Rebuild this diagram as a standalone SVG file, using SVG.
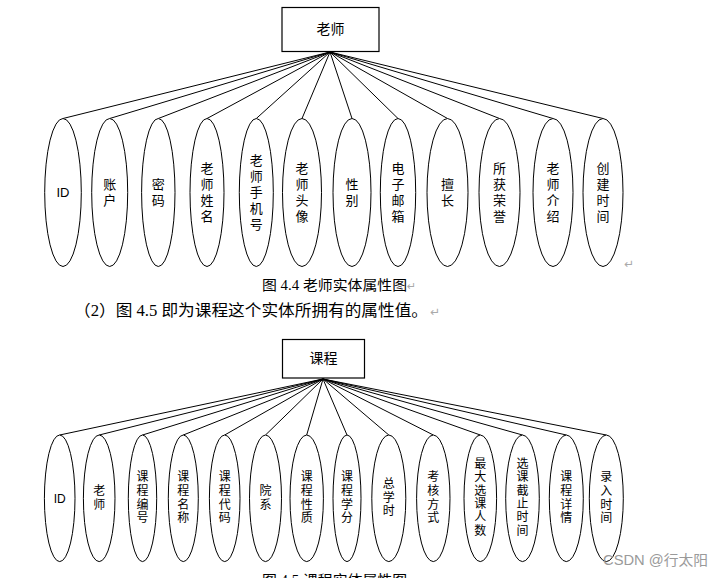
<svg xmlns="http://www.w3.org/2000/svg" width="716" height="578" viewBox="0 0 716 578">
<style>
.box{fill:#fff;stroke:#000;stroke-width:1.2}
.ell{fill:#fff;stroke:#000;stroke-width:1}
.con line{stroke:#000;stroke-width:1}
.t1{font-family:"Liberation Sans","Noto Sans CJK SC",sans-serif;font-size:13px;fill:#000;text-anchor:middle}
.t2{font-family:"Liberation Sans","Noto Sans CJK SC",sans-serif;font-size:12px;fill:#000;text-anchor:middle}
.ent{font-family:"Liberation Sans","Noto Sans CJK SC",sans-serif;font-size:14px;fill:#000;text-anchor:middle}
.cap{font-family:"Liberation Serif","Noto Sans CJK SC",serif;fill:#000}
.ret{font-family:"DejaVu Sans",sans-serif;fill:#aaa}
.wm{font-family:"Liberation Sans","Noto Sans CJK SC",sans-serif;font-size:14px;fill:#9a9a9a}
</style>

<g id="connectors" class="con">
<line x1="330" y1="52" x2="63" y2="118.5"/>
<line x1="330" y1="52" x2="109.7" y2="118.5"/>
<line x1="330" y1="52" x2="158.3" y2="118.5"/>
<line x1="330" y1="52" x2="207" y2="118.5"/>
<line x1="330" y1="52" x2="256.3" y2="118.5"/>
<line x1="330" y1="52" x2="302" y2="118.5"/>
<line x1="330" y1="52" x2="352" y2="118.5"/>
<line x1="330" y1="52" x2="398" y2="118.5"/>
<line x1="330" y1="52" x2="447.5" y2="118.5"/>
<line x1="330" y1="52" x2="499.5" y2="118.5"/>
<line x1="330" y1="52" x2="553" y2="118.5"/>
<line x1="330" y1="52" x2="603" y2="118.5"/>

<line x1="323" y1="379" x2="59.7" y2="435"/>
<line x1="323" y1="379" x2="99.2" y2="435"/>
<line x1="323" y1="379" x2="142.5" y2="435"/>
<line x1="323" y1="379" x2="183.3" y2="435"/>
<line x1="323" y1="379" x2="224.7" y2="435"/>
<line x1="323" y1="379" x2="265.5" y2="435"/>
<line x1="323" y1="379" x2="306.7" y2="435"/>
<line x1="323" y1="379" x2="347" y2="435"/>
<line x1="323" y1="379" x2="388.8" y2="435"/>
<line x1="323" y1="379" x2="433.3" y2="435"/>
<line x1="323" y1="379" x2="480.3" y2="435"/>
<line x1="323" y1="379" x2="522.5" y2="435"/>
<line x1="323" y1="379" x2="566.3" y2="435"/>
<line x1="323" y1="379" x2="606.3" y2="435"/>
</g>

<!-- Teacher entity -->
<g id="teacher">
<rect class="box" x="282" y="7.5" width="97" height="44"/>
<text class="ent" x="330.5" y="34">老师</text>
</g>

<g id="t-id"><ellipse class="ell" cx="63" cy="192.5" rx="18.3" ry="74"/><text class="t1" x="63" y="197">ID</text></g>
<g id="t-account"><ellipse class="ell" cx="109.7" cy="192.5" rx="18" ry="74"/><text class="t1"><tspan x="109.7" y="188.7">账</tspan><tspan x="109.7" y="204.7">户</tspan></text></g>
<g id="t-pwd"><ellipse class="ell" cx="158.3" cy="192.5" rx="16.7" ry="74"/><text class="t1"><tspan x="158.3" y="188.7">密</tspan><tspan x="158.3" y="204.7">码</tspan></text></g>
<g id="t-name"><ellipse class="ell" cx="207" cy="192.5" rx="17" ry="74"/><text class="t1"><tspan x="207" y="172.7">老</tspan><tspan x="207" y="188.7">师</tspan><tspan x="207" y="204.7">姓</tspan><tspan x="207" y="220.7">名</tspan></text></g>
<g id="t-phone"><ellipse class="ell" cx="256.3" cy="192.5" rx="17" ry="74"/><text class="t1"><tspan x="256.3" y="164.7">老</tspan><tspan x="256.3" y="180.7">师</tspan><tspan x="256.3" y="196.7">手</tspan><tspan x="256.3" y="212.7">机</tspan><tspan x="256.3" y="228.7">号</tspan></text></g>
<g id="t-avatar"><ellipse class="ell" cx="302" cy="192.5" rx="19.5" ry="74"/><text class="t1"><tspan x="302" y="172.7">老</tspan><tspan x="302" y="188.7">师</tspan><tspan x="302" y="204.7">头</tspan><tspan x="302" y="220.7">像</tspan></text></g>
<g id="t-gender"><ellipse class="ell" cx="352" cy="192.5" rx="19" ry="74"/><text class="t1"><tspan x="352" y="188.7">性</tspan><tspan x="352" y="204.7">别</tspan></text></g>
<g id="t-email"><ellipse class="ell" cx="398" cy="192.5" rx="17.7" ry="74"/><text class="t1"><tspan x="398" y="172.7">电</tspan><tspan x="398" y="188.7">子</tspan><tspan x="398" y="204.7">邮</tspan><tspan x="398" y="220.7">箱</tspan></text></g>
<g id="t-skill"><ellipse class="ell" cx="447.5" cy="192.5" rx="20.5" ry="74"/><text class="t1"><tspan x="447.5" y="188.7">擅</tspan><tspan x="447.5" y="204.7">长</tspan></text></g>
<g id="t-honor"><ellipse class="ell" cx="499.5" cy="192.5" rx="20.5" ry="74"/><text class="t1"><tspan x="499.5" y="172.7">所</tspan><tspan x="499.5" y="188.7">获</tspan><tspan x="499.5" y="204.7">荣</tspan><tspan x="499.5" y="220.7">誉</tspan></text></g>
<g id="t-intro"><ellipse class="ell" cx="553" cy="192.5" rx="20" ry="74"/><text class="t1"><tspan x="553" y="172.7">老</tspan><tspan x="553" y="188.7">师</tspan><tspan x="553" y="204.7">介</tspan><tspan x="553" y="220.7">绍</tspan></text></g>
<g id="t-created"><ellipse class="ell" cx="603" cy="192.5" rx="20" ry="74"/><text class="t1"><tspan x="603" y="172.7">创</tspan><tspan x="603" y="188.7">建</tspan><tspan x="603" y="204.7">时</tspan><tspan x="603" y="220.7">间</tspan></text></g>

<text class="ret" x="624" y="268" font-size="12">↵</text>

<text class="cap" x="262" y="290" font-size="14" textLength="145" lengthAdjust="spacingAndGlyphs">图 4.4 老师实体属性图</text>
<text class="ret" x="407" y="290" font-size="11">↵</text>
<text class="cap" x="74" y="316" font-size="16" textLength="354" lengthAdjust="spacingAndGlyphs">（2）图 4.5 即为课程这个实体所拥有的属性值。</text>
<text class="ret" x="430" y="316" font-size="12">↵</text>

<!-- Course entity -->
<g id="course">
<rect class="box" x="282.5" y="339.5" width="82" height="38.5"/>
<text class="ent" x="323.5" y="363">课程</text>
</g>

<g id="c-id"><ellipse class="ell" cx="59.7" cy="498.3" rx="15.3" ry="63.3"/><text class="t2" x="59.7" y="502.5">ID</text></g>
<g id="c-teacher"><ellipse class="ell" cx="99.2" cy="498.3" rx="15.8" ry="63.3"/><text class="t2"><tspan x="99.2" y="495">老</tspan><tspan x="99.2" y="508.5">师</tspan></text></g>
<g id="c-no"><ellipse class="ell" cx="142.5" cy="498.3" rx="14.2" ry="63.3"/><text class="t2"><tspan x="142.5" y="481">课</tspan><tspan x="142.5" y="494.8">程</tspan><tspan x="142.5" y="508.6">编</tspan><tspan x="142.5" y="522.4">号</tspan></text></g>
<g id="c-name"><ellipse class="ell" cx="183.3" cy="498.3" rx="15" ry="63.3"/><text class="t2"><tspan x="183.3" y="481">课</tspan><tspan x="183.3" y="494.8">程</tspan><tspan x="183.3" y="508.6">名</tspan><tspan x="183.3" y="522.4">称</tspan></text></g>
<g id="c-code"><ellipse class="ell" cx="224.7" cy="498.3" rx="15.3" ry="63.3"/><text class="t2"><tspan x="224.7" y="481">课</tspan><tspan x="224.7" y="494.8">程</tspan><tspan x="224.7" y="508.6">代</tspan><tspan x="224.7" y="522.4">码</tspan></text></g>
<g id="c-dept"><ellipse class="ell" cx="265.5" cy="498.3" rx="16" ry="63.3"/><text class="t2"><tspan x="265.5" y="495">院</tspan><tspan x="265.5" y="508.5">系</tspan></text></g>
<g id="c-nature"><ellipse class="ell" cx="306.7" cy="498.3" rx="16.7" ry="63.3"/><text class="t2"><tspan x="306.7" y="481">课</tspan><tspan x="306.7" y="494.8">程</tspan><tspan x="306.7" y="508.6">性</tspan><tspan x="306.7" y="522.4">质</tspan></text></g>
<g id="c-credit"><ellipse class="ell" cx="347" cy="498.3" rx="14" ry="63.3"/><text class="t2"><tspan x="347" y="481">课</tspan><tspan x="347" y="494.8">程</tspan><tspan x="347" y="508.6">学</tspan><tspan x="347" y="522.4">分</tspan></text></g>
<g id="c-hours"><ellipse class="ell" cx="388.8" cy="498.3" rx="17" ry="63.3"/><text class="t2"><tspan x="388.8" y="487.8">总</tspan><tspan x="388.8" y="501.6">学</tspan><tspan x="388.8" y="515.4">时</tspan></text></g>
<g id="c-exam"><ellipse class="ell" cx="433.3" cy="498.3" rx="16.7" ry="63.3"/><text class="t2"><tspan x="433.3" y="481">考</tspan><tspan x="433.3" y="494.8">核</tspan><tspan x="433.3" y="508.6">方</tspan><tspan x="433.3" y="522.4">式</tspan></text></g>
<g id="c-max"><ellipse class="ell" cx="480.3" cy="498.3" rx="16.3" ry="63.3"/><text class="t2"><tspan x="480.3" y="467.7">最</tspan><tspan x="480.3" y="481.1">大</tspan><tspan x="480.3" y="494.5">选</tspan><tspan x="480.3" y="507.9">课</tspan><tspan x="480.3" y="521.3">人</tspan><tspan x="480.3" y="534.7">数</tspan></text></g>
<g id="c-deadline"><ellipse class="ell" cx="522.5" cy="498.3" rx="16.8" ry="63.3"/><text class="t2"><tspan x="522.5" y="467.7">选</tspan><tspan x="522.5" y="481.1">课</tspan><tspan x="522.5" y="494.5">截</tspan><tspan x="522.5" y="507.9">止</tspan><tspan x="522.5" y="521.3">时</tspan><tspan x="522.5" y="534.7">间</tspan></text></g>
<g id="c-detail"><ellipse class="ell" cx="566.3" cy="498.3" rx="17" ry="63.3"/><text class="t2"><tspan x="566.3" y="481">课</tspan><tspan x="566.3" y="494.8">程</tspan><tspan x="566.3" y="508.6">详</tspan><tspan x="566.3" y="522.4">情</tspan></text></g>
<g id="c-entry"><ellipse class="ell" cx="606.3" cy="498.3" rx="17" ry="63.3"/><text class="t2"><tspan x="606.3" y="481">录</tspan><tspan x="606.3" y="494.8">入</tspan><tspan x="606.3" y="508.6">时</tspan><tspan x="606.3" y="522.4">间</tspan></text></g>

<text class="cap" x="262" y="585" font-size="14" textLength="145" lengthAdjust="spacingAndGlyphs">图 4.5 课程实体属性图</text>

<text class="wm" x="603" y="565" textLength="105" lengthAdjust="spacingAndGlyphs">CSDN @行太阳</text>
</svg>
